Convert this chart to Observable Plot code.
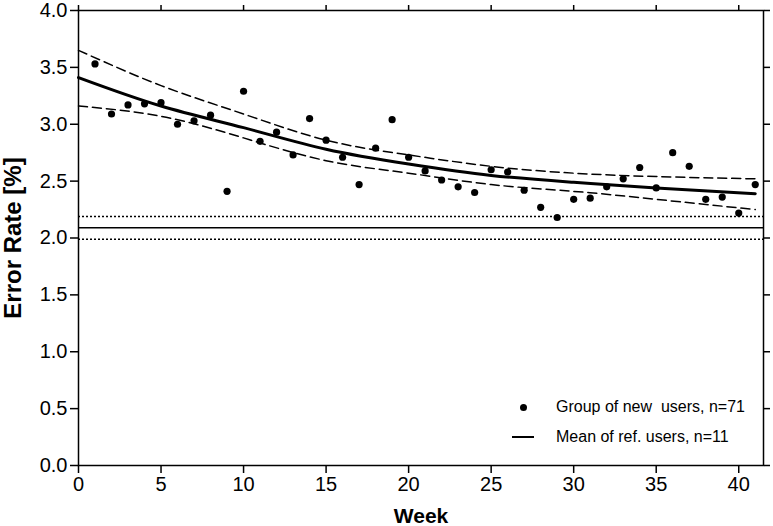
<!DOCTYPE html>
<html><head><meta charset="utf-8">
<script src="https://cdn.jsdelivr.net/npm/d3@7"></script>
<script src="https://cdn.jsdelivr.net/npm/@observablehq/plot@0.6"></script>
<style>
body{margin:0;background:#fff;}
#wrap{position:relative;width:773px;height:526px;font-family:"Liberation Sans",Arial,sans-serif;}
g[aria-label="x-axis label"] text{font-weight:bold;font-size:21px;}
g[aria-label="y-axis label"] text{font-weight:bold;font-size:24px;}
.legend{position:absolute;left:510px;top:392px;font-size:16px;color:#000;}
.row{display:flex;align-items:center;height:30px;}
.sym{width:26px;display:flex;justify-content:center;margin-right:20px;}
.dotsym{width:7px;height:7px;border-radius:50%;background:#000;}
.linesym{width:22px;height:1.5px;background:#000;}
</style></head>
<body><div id="wrap"></div>
<script>
const weeks = [1,2,3,4,5,6,7,8,9,10,11,12,13,14,15,16,17,18,19,20,21,22,23,24,25,26,27,28,29,30,31,32,33,34,35,36,37,38,39,40,41];
const errorRate = [3.53,3.09,3.17,3.18,3.19,3.00,3.03,3.08,2.41,3.29,2.85,2.93,2.73,3.05,2.86,2.71,2.47,2.79,3.04,2.71,2.59,2.51,2.45,2.40,2.60,2.58,2.42,2.27,2.18,2.34,2.35,2.45,2.52,2.62,2.44,2.75,2.63,2.34,2.36,2.22,2.47];
const fitWeeks = [0,5,10,15,20,25,30,35,41];
const fitMean  = [3.41,3.16,2.97,2.78,2.65,2.55,2.49,2.44,2.39];
const fitUpper = [3.65,3.34,3.09,2.86,2.73,2.63,2.57,2.54,2.52];
const fitLower = [3.16,3.07,2.88,2.68,2.57,2.47,2.41,2.34,2.25];
const refMean = 2.09, refUpper = 2.19, refLower = 1.99;
const xTicks = [0,5,10,15,20,25,30,35,40];
const yTicks = [0,0.5,1,1.5,2,2.5,3,3.5,4];

const pts = weeks.map((w,i)=>({week:w, rate:errorRate[i]}));
const fit = fitWeeks.map((w,i)=>({week:w, mean:fitMean[i], upper:fitUpper[i], lower:fitLower[i]}));

const chart = Plot.plot({
  width: 773, height: 526,
  marginLeft: 78, marginRight: 10, marginTop: 10, marginBottom: 61,
  style: {fontFamily: '"Liberation Sans", Arial, sans-serif', fontSize: "20px", color: "#000", background: "#fff"},
  x: {domain: [0, 41.5]},
  y: {domain: [0, 4]},
  marks: [
    Plot.ruleY([refMean], {stroke: "#000", strokeWidth: 1.5}),
    Plot.ruleY([refUpper, refLower], {stroke: "#000", strokeWidth: 1.5, strokeDasharray: "2,2"}),
    Plot.line(fit, {x: "week", y: "upper", curve: "natural", stroke: "#000", strokeWidth: 1.5, strokeDasharray: "9,5"}),
    Plot.line(fit, {x: "week", y: "lower", curve: "natural", stroke: "#000", strokeWidth: 1.5, strokeDasharray: "9,5"}),
    Plot.line(fit, {x: "week", y: "mean", curve: "natural", stroke: "#000", strokeWidth: 3}),
    Plot.dot(pts, {x: "week", y: "rate", r: 3.6, fill: "#000", stroke: null}),
    Plot.frame({stroke: "#000", strokeWidth: 1.5}),
    Plot.axisX({ticks: xTicks, tickSize: 8, tickPadding: 3, strokeWidth: 1.5, fontSize: 20, label: "Week", labelArrow: "none", labelAnchor: "center", labelOffset: 57}),
    Plot.axisX({anchor: "top", ticks: xTicks, tickSize: 6, strokeWidth: 1.5, tickFormat: () => "", label: null}),
    Plot.axisY({ticks: yTicks, tickSize: 8, tickPadding: 3, strokeWidth: 1.5, fontSize: 20, tickFormat: d3.format(".1f"), label: "Error Rate [%]", labelArrow: "none", labelAnchor: "center", labelOffset: 75}),
    Plot.axisY({anchor: "right", ticks: yTicks, tickSize: 6, strokeWidth: 1.5, tickFormat: () => "", label: null})
  ]
});
document.getElementById("wrap").appendChild(chart);

const legend = document.createElement("div");
legend.className = "legend";
legend.innerHTML = `
  <div class="row"><div class="sym"><div class="dotsym"></div></div><span>Group of new&nbsp; users, n=71</span></div>
  <div class="row"><div class="sym"><div class="linesym"></div></div><span>Mean of ref. users, n=11</span></div>`;
document.getElementById("wrap").appendChild(legend);
</script></body></html>
